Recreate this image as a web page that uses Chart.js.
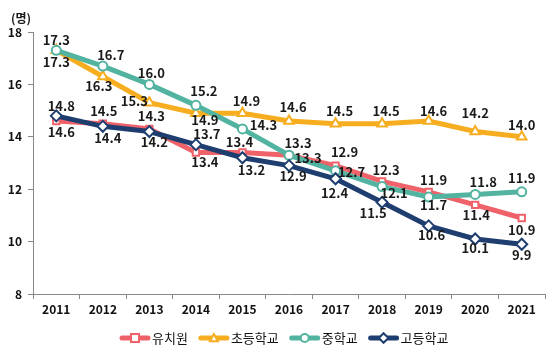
<!DOCTYPE html>
<html><head><meta charset="utf-8">
<script src="https://cdn.jsdelivr.net/npm/chart.js@4.4.1/dist/chart.umd.min.js"></script>
<style>html,body{margin:0;padding:0;background:#fff}#wrap{width:556px;height:357px;position:relative}</style>
</head><body><div id="wrap"><canvas id="c"></canvas></div>
<script>
const years = ['2011','2012','2013','2014','2015','2016','2017','2018','2019','2020','2021'];
const kindergarten = [14.6,14.5,14.3,13.4,13.4,13.3,12.9,12.3,11.9,11.4,10.9];
const elementary = [17.3,16.3,15.3,14.9,14.9,14.6,14.5,14.5,14.6,14.2,14.0];
const middle = [17.3,16.7,16.0,15.2,14.3,13.3,12.7,12.1,11.7,11.8,11.9];
const high = [14.8,14.4,14.2,13.7,13.2,12.9,12.4,11.5,10.6,10.1,9.9];
const seriesNames = ['유치원','초등학교','중학교','고등학교'];
const yMin = 8, yMax = 18, yStep = 2;
const unitLabel = '(명)';

const colors = ['#F0626A','#F6AD1F','#52B3A0','#1F3E70'];
const shapes = ['rect','triangle','circle','rectRot'];
const radii = [4.5,5.5,4.5,5.5];
// label offsets (dx, dy) from each point, per series
const labelOffsets = [
  [[5,11],[1,-13],[2,-13],[9,10],[-3,-10],[9,-12],[9,-14],[4,-11],[5,-12],[1,10],[0,12]],
  [[0,12],[-4,10],[-15,-2],[9,7],[4,-12],[4,-14],[4,-13],[4,-13],[5,-10],[0,-18],[0,-12]],
  [[0,-10],[8,-11],[2,-11],[8,-14],[21,-4],[19,3],[16,1],[12,6],[5,8],[8,-12],[0,-14]],
  [[5,-10],[5,12],[5,11],[11,-11],[9,12],[4,10],[-1,14],[-9,11],[3,9],[0,9],[0,11]]
];
const FONT = '"Noto Sans CJK KR", "Liberation Sans", sans-serif';

function drawMarker(g, shape, x, y, r){
  g.beginPath();
  if (shape === 'rect') { g.rect(x-r, y-r, 2*r, 2*r); }
  else if (shape === 'circle') { g.arc(x, y, r, 0, Math.PI*2); }
  else if (shape === 'triangle') { g.moveTo(x, y-r); g.lineTo(x+r, y+r*0.8); g.lineTo(x-r, y+r*0.8); g.closePath(); }
  else { g.moveTo(x, y-r*1.2); g.lineTo(x+r*1.2, y); g.lineTo(x, y+r*1.2); g.lineTo(x-r*1.2, y); g.closePath(); }
  g.fill(); g.stroke();
}

const series = [kindergarten, elementary, middle, high];
const datasets = series.map((d,i)=>({
  label: seriesNames[i], data: d,
  borderColor: colors[i], backgroundColor: '#fff',
  borderWidth: 5, pointStyle: shapes[i], pointRadius: radii[i],
  pointBorderWidth: 2, pointBackgroundColor: '#fff', pointBorderColor: colors[i],
  tension: 0, order: 4 - i
}));

const labelPlugin = {
  id: 'valueLabels',
  afterDatasetsDraw(chart){
    const ctx = chart.ctx;
    ctx.save();
    ctx.font = 'bold 13px ' + FONT;
    ctx.fillStyle = '#1a1a1a';
    ctx.textBaseline = 'middle';
    ctx.textAlign = 'center';
    chart.data.datasets.forEach((ds, di)=>{
      const meta = chart.getDatasetMeta(di);
      meta.data.forEach((pt, j)=>{
        const o = labelOffsets[di][j];
        ctx.fillText(ds.data[j].toFixed(1), pt.x + o[0], pt.y + o[1]);
      });
    });
    // unit label
    ctx.font = 'bold 12px ' + FONT;
    ctx.fillText(unitLabel, 21, 18);
    // legend
    ctx.font = '13px ' + FONT;
    ctx.textAlign = 'left';
    ctx.fillStyle = '#111';
    let x = 120; const y = 338;
    chart.data.datasets.forEach((ds, i)=>{
      ctx.strokeStyle = colors[i]; ctx.lineWidth = 5; ctx.lineCap = 'round';
      ctx.beginPath(); ctx.moveTo(x+2, y); ctx.lineTo(x+28, y); ctx.stroke();
      ctx.fillStyle = '#fff'; ctx.lineWidth = 2; ctx.lineCap = 'butt';
      drawMarker(ctx, shapes[i], x+15, y, 4);
      ctx.fillStyle = '#111';
      ctx.fillText(ds.label, x + 32, y);
      x += 32 + ctx.measureText(ds.label).width + 11;
    });
    ctx.restore();
  }
};

new Chart(document.getElementById('c'), {
  type: 'line',
  data: { labels: years, datasets },
  plugins: [labelPlugin],
  options: {
    responsive: true, maintainAspectRatio: false, animation: false,
    layout: { padding: { top: 32, right: 11, bottom: 36, left: 0 } },
    plugins: { tooltip: { enabled: false }, legend: { display: false } },
    scales: {
      x: {
        offset: true,
        grid: { offset: true, drawOnChartArea: false, drawTicks: true, tickLength: 5, color: '#888' },
        border: { color: '#888' },
        ticks: { color: '#111', font: { family: FONT, size: 12, weight: 'bold' }, padding: 3, maxRotation: 0 },
        afterFit(s){ s.height = 27; }
      },
      y: {
        min: yMin, max: yMax,
        grid: { drawOnChartArea: false, drawTicks: true, tickLength: 5, color: '#888' },
        border: { color: '#888' },
        ticks: { stepSize: yStep, color: '#111', font: { family: FONT, size: 12, weight: 'bold' }, padding: 6 },
        afterFit(s){ s.width = 33; }
      }
    }
  }
});
</script></body></html>
